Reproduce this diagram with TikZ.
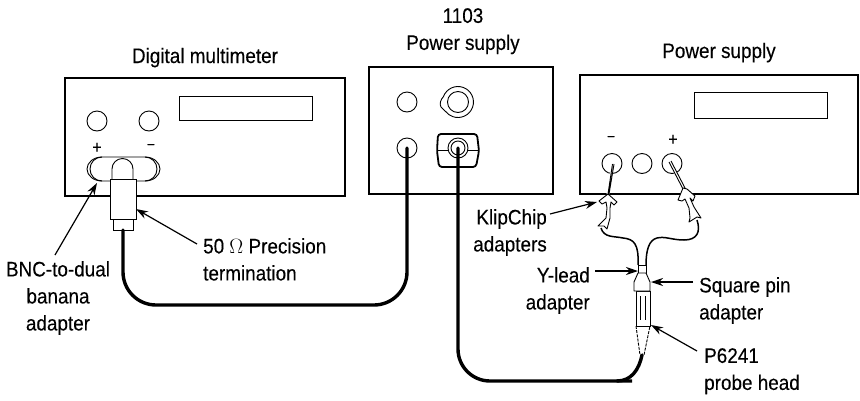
\documentclass[tikz,border=0pt]{standalone}
\usepackage{fontspec}
\setmainfont[FakeStretch=0.9,FakeBold=0.2]{Liberation Sans}
\usetikzlibrary{arrows.meta, positioning, calc}

\begin{document}
\begin{tikzpicture}[
    x=1pt, y=-1pt,
    panel/.style={draw, line width=2pt, rectangle, inner sep=0pt, outer sep=0pt, anchor=north west},
    display/.style={draw, line width=0.9pt, rectangle, inner sep=0pt, outer sep=0pt, anchor=north west},
    jack/.style={draw, line width=0.9pt, circle, inner sep=0pt, outer sep=0pt, minimum size=20pt},
    part/.style={draw, line width=0.9pt, fill=white, rectangle, inner sep=0pt, outer sep=0pt, anchor=north west},
    cable/.style={line width=3.4pt, line cap=round},
    fine/.style={line width=0.9pt, line join=round},
    wire/.style={line width=1.5pt},
    arrow/.style={-{Stealth[length=12pt,width=8pt]}, line width=1.2pt},
    lbl/.style={font=\fontsize{21}{27}\selectfont, inner sep=0pt, align=center},
    plussign/.style={font=\fontsize{18}{18}\selectfont, inner sep=0pt},
    minussign/.style={font=\fontsize{13}{13}\selectfont, inner sep=0pt}
  ]
    \useasboundingbox (0,0) rectangle (860,400);

    % instruments
    \node[panel, minimum width=280pt, minimum height=118pt] (dmm) at (65,78) {};
    \node[panel, minimum width=184pt, minimum height=127pt] (psmid) at (369,67) {};
    \node[panel, minimum width=278pt, minimum height=119pt] (psright) at (580,75) {};
    \node[display, minimum width=133pt, minimum height=24pt] (dmmdisp) at (179,96) {};
    \node[display, minimum width=133pt, minimum height=26pt] (psdisp) at (694,92) {};

    % jacks
    \node[jack] (dmmplus) at (97,121) {};
    \node[jack] (dmmminus) at (149,121) {};
    \node[jack] (midtop) at (407,102) {};
    \node[jack] (midlow) at (407,148) {};
    \node[jack] (psminus) at (612,163.5) {};
    \node[jack] (psground) at (642,163.5) {};
    \node[jack] (psplus) at (672,163.5) {};
    \node[plussign] at (97,148) {+};
    \node[minussign] at (151,146) {–};
    \node[minussign] at (611,138) {–};
    \node[plussign] at (673,140) {+};

    % connectors on the middle supply
    \node[jack, minimum size=21pt] (bnctop) at (458,102) {};
    \draw[fine] (443.4,96.7) arc[start angle=-160, end angle=140, radius=15.5]
      -- (441,107) .. controls (439,104) and (441,99) .. (443.4,96.7);
    \draw[line width=1.8pt, rounded corners=3pt] (438,134) -- (477,134) -- (479,151) -- (476,167) -- (439,167) -- (437,151) -- cycle;
    \node[jack, fill=white] (bnclow) at (458,148) {};
    \node[jack, minimum size=14pt] (bnccore) at (458,148) {};
    \draw[fine] (437,150) -- (448,150) (468,150) -- (478,150);

    % banana adapter and termination
    \draw[fine, fill=white, rounded corners=12pt] (90,157) rectangle (157,181);
    \draw[fine] (102,157) arc[start angle=-90, end angle=-270, x radius=15, y radius=12];
    \draw[fine] (145,157) arc[start angle=-90, end angle=90, x radius=15, y radius=12];
    \draw[fine, fill=white] (112,179) -- (112,169) arc[start angle=180, end angle=360, radius=10.5] -- (133,179);
    \node[part, minimum width=26pt, minimum height=40pt] (term) at (110,179) {};
    \node[part, minimum width=20pt, minimum height=11pt] (termcap) at (113,219) {};

    % klipchip leads
    \draw[white, line width=3pt] (613,164) -- (608,194) (670,162) -- (684,189);
    \draw[fine] (612.5,164) -- (608,194) (614,164) -- (609,194);
    \draw[fine] (669,162) -- (683,189) (671,161) -- (685,188);
    \draw[fine, fill=white] (608,194) -- (599,201) -- (602,204) -- (606,202) -- (607,208) -- (606,218) -- (598,226) -- (604,226) -- (607,229) -- (610,218) -- (610,208) -- (611,202) -- (614,205) -- (617,202) -- cycle;
    \draw[fine, fill=white] (683,188) -- (678,200) -- (682,201) -- (685,199) -- (689,208) -- (690,218) -- (689,222) -- (697,217) -- (701,218) -- (694,207) -- (690,198) -- (693,201) -- (695,196) -- (687,189) -- cycle;

    % probe and adapters
    \node[part, minimum width=8pt, minimum height=8pt] (ylead) at (638,265) {};
    \node[part, minimum width=14pt, minimum height=35pt] (probebody) at (636,291) {};
    \draw[fine] (640.5,296) -- (640.5,320) (645,296) -- (645,320);
    \draw[fine, fill=white] (638,273) -- (634,282) -- (634,291) -- (650,291) -- (650,282) -- (646,273) -- cycle;
    \draw[fine, dash pattern=on 3pt off 1.2pt, fill=white] (636,326) -- (640,355) -- (644,355) -- (650,326);
    \draw[fine] (636,326) -- (650,326);
    \coordinate (probetip) at (642,355);
    \draw[wire] (601,228) .. controls (604,238) and (614,236) .. (623,238)
      .. controls (634,239) and (639,244) .. (ylead.north west);
    \draw[wire] (697,220) .. controls (701,232) and (697,240) .. (684,240)
      .. controls (672,240) and (665,236) .. (657,238)
      .. controls (649,240) and (646,250) .. (ylead.north east);

    % coax cables
    \coordinate (cablelowa) at (300,305);
    \coordinate (cablelowb) at (600,381);
    \draw[cable, rounded corners=33pt] (termcap.south) |- (cablelowa) -| (midlow.center);
    \draw[cable, rounded corners=32pt] (bnccore.center) |- (cablelowb) -- (617,381);
    \draw[cable] (617,381) .. controls (631,381) and (639,370) .. (probetip);

    % labels
    \node[lbl, anchor=north] (lblmid) at (463,8) {1103\\Power supply};
    \node[lbl, anchor=base] (lbldmm) at (205,63) {Digital multimeter};
    \node[lbl, anchor=base] (lblps) at (719,58) {Power supply};
    \node[lbl, anchor=north] (lblbnc) at (58,261) {BNC-to-dual\\banana\\adapter};
    \node[lbl, align=left, anchor=north west] (lblterm) at (203,238) {50 $\Omega$ Precision\\termination};
    \node[lbl, align=right, anchor=north east] (lblklip) at (547,209) {KlipChip\\adapters};
    \node[lbl, align=right, anchor=north east] (lblylead) at (590,267) {Y-lead\\adapter};
    \node[lbl, align=left, anchor=north west] (lblsquare) at (699,277) {Square pin\\adapter};
    \node[lbl, align=left, anchor=north west] (lblp) at (704,348) {P6241\\probe head};

    % callouts
    \coordinate (bncarrow) at (55,255);
    \coordinate (bncend) at (97,183);
    \coordinate (termarrow) at (197,244);
    \coordinate (termend) at (136,209);
    \coordinate (klipend) at (597,202);
    \coordinate (squareend) at (651,282);
    \coordinate (probearrow) at (697,351);
    \coordinate (probeend) at (651,325);
    \draw[arrow] (bncarrow) -- (bncend);
    \draw[arrow] (termarrow) -- (termend);
    \draw[arrow] (550,214) -- (klipend);
    \draw[arrow] (595,271) -- ($(ylead.west)+(0,2)$);
    \draw[arrow] (693,282) -- (squareend);
    \draw[arrow] (probearrow) -- (probeend);
  \end{tikzpicture}
\end{document}
